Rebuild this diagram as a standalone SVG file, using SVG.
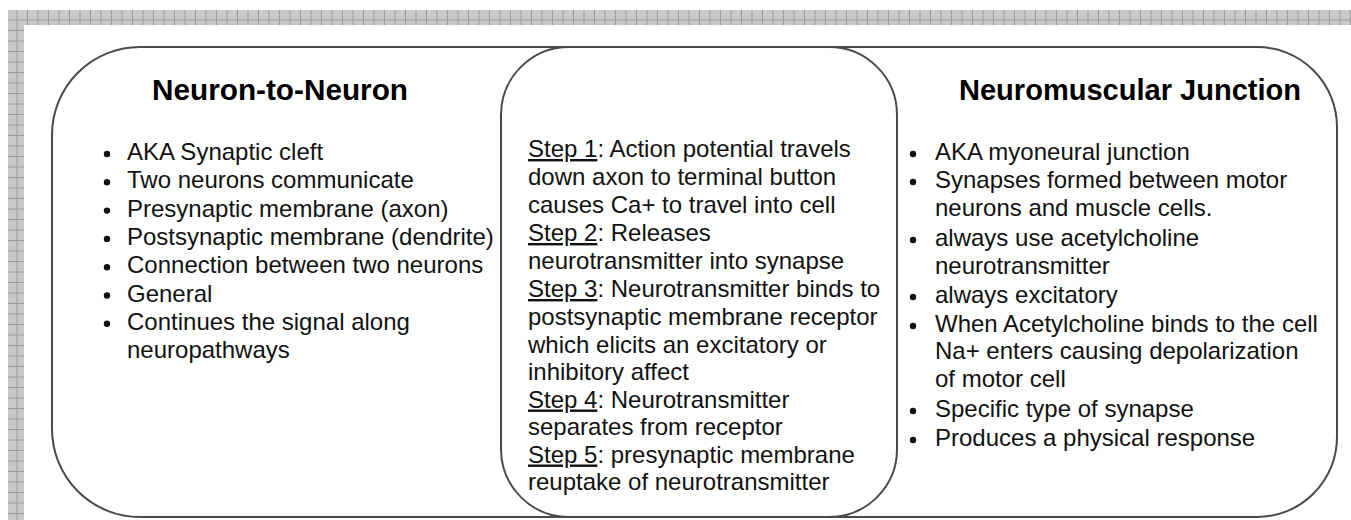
<svg xmlns="http://www.w3.org/2000/svg" width="1351" height="520" viewBox="0 0 1351 520">
  <defs>
    <pattern id="grid" x="7" y="10" width="10.5" height="10.5" patternUnits="userSpaceOnUse">
      <rect width="10.5" height="10.5" fill="#c9c9c9"/>
      <path d="M10 0V10.5M0 10H10.5" stroke="#9a9a9a" stroke-width="1"/>
    </pattern>
  </defs>
  <style>
    .panel { fill: #ffffff; stroke: #4a4a4a; stroke-width: 2; }
    .title { font-family: "Liberation Sans", Arial, sans-serif; font-size: 30px; font-weight: bold; fill: #000; text-anchor: middle; }
    .body { font-family: "Liberation Sans", Arial, sans-serif; font-size: 24px; fill: #111; }
    .bullet { fill: #111; }
    .u { text-decoration: underline; }
  </style>
  <rect width="1351" height="520" fill="#ffffff"/>
  <rect x="8" y="10" width="1343" height="15" fill="url(#grid)"/>
  <rect x="8" y="10" width="16" height="510" fill="url(#grid)"/>

  <g id="neuron-to-neuron">
    <rect class="panel" x="52" y="47" width="660" height="470" rx="88" ry="88"/>
    <text class="title" x="280" y="100" textLength="256" lengthAdjust="spacingAndGlyphs">Neuron-to-Neuron</text>
    <g class="bullet">
      <circle cx="107" cy="154" r="3.2"/>
      <circle cx="107" cy="182.3" r="3.2"/>
      <circle cx="107" cy="210.6" r="3.2"/>
      <circle cx="107" cy="238.9" r="3.2"/>
      <circle cx="107" cy="267.2" r="3.2"/>
      <circle cx="107" cy="295.5" r="3.2"/>
      <circle cx="107" cy="323.8" r="3.2"/>
    </g>
    <text class="body">
      <tspan x="127" y="160">AKA Synaptic cleft</tspan>
      <tspan x="127" y="188.3">Two neurons communicate</tspan>
      <tspan x="127" y="216.6">Presynaptic membrane (axon)</tspan>
      <tspan x="127" y="244.9">Postsynaptic membrane (dendrite)</tspan>
      <tspan x="127" y="273.2">Connection between two neurons</tspan>
      <tspan x="127" y="301.5">General</tspan>
      <tspan x="127" y="329.8">Continues the signal along</tspan>
      <tspan x="127" y="358.1">neuropathways</tspan>
    </text>
  </g>

  <g id="neuromuscular-junction">
    <rect class="panel" x="690" y="47" width="647" height="470" rx="80" ry="80"/>
    <text class="title" x="1130" y="100" textLength="342" lengthAdjust="spacingAndGlyphs">Neuromuscular Junction</text>
    <g class="bullet">
      <circle cx="913" cy="154" r="3.2"/>
      <circle cx="913" cy="182" r="3.2"/>
      <circle cx="913" cy="240" r="3.2"/>
      <circle cx="913" cy="297" r="3.2"/>
      <circle cx="913" cy="326" r="3.2"/>
      <circle cx="913" cy="411" r="3.2"/>
      <circle cx="913" cy="440" r="3.2"/>
    </g>
    <text class="body">
      <tspan x="935" y="160">AKA myoneural junction</tspan>
      <tspan x="935" y="188">Synapses formed between motor</tspan>
      <tspan x="935" y="216">neurons and muscle cells.</tspan>
      <tspan x="935" y="246">always use acetylcholine</tspan>
      <tspan x="935" y="274">neurotransmitter</tspan>
      <tspan x="935" y="303">always excitatory</tspan>
      <tspan x="935" y="332">When Acetylcholine binds to the cell</tspan>
      <tspan x="935" y="359">Na+ enters causing depolarization</tspan>
      <tspan x="935" y="387">of motor cell</tspan>
      <tspan x="935" y="417">Specific type of synapse</tspan>
      <tspan x="935" y="446">Produces a physical response</tspan>
    </text>
  </g>

  <g id="steps">
    <rect class="panel" x="501" y="47" width="396" height="470" rx="68" ry="68"/>
    <text class="body">
      <tspan x="528" y="157"><tspan class="u">Step 1</tspan>: Action potential travels</tspan>
      <tspan x="528" y="185">down axon to terminal button</tspan>
      <tspan x="528" y="213">causes Ca+ to travel into cell</tspan>
      <tspan x="528" y="241"><tspan class="u">Step 2</tspan>: Releases</tspan>
      <tspan x="528" y="269">neurotransmitter into synapse</tspan>
      <tspan x="528" y="297"><tspan class="u">Step 3</tspan>: Neurotransmitter binds to</tspan>
      <tspan x="528" y="325">postsynaptic membrane receptor</tspan>
      <tspan x="528" y="352.5">which elicits an excitatory or</tspan>
      <tspan x="528" y="380">inhibitory affect</tspan>
      <tspan x="528" y="407.5"><tspan class="u">Step 4</tspan>: Neurotransmitter</tspan>
      <tspan x="528" y="435">separates from receptor</tspan>
      <tspan x="528" y="462.5"><tspan class="u">Step 5</tspan>: presynaptic membrane</tspan>
      <tspan x="528" y="490">reuptake of neurotransmitter</tspan>
    </text>
  </g>
</svg>
